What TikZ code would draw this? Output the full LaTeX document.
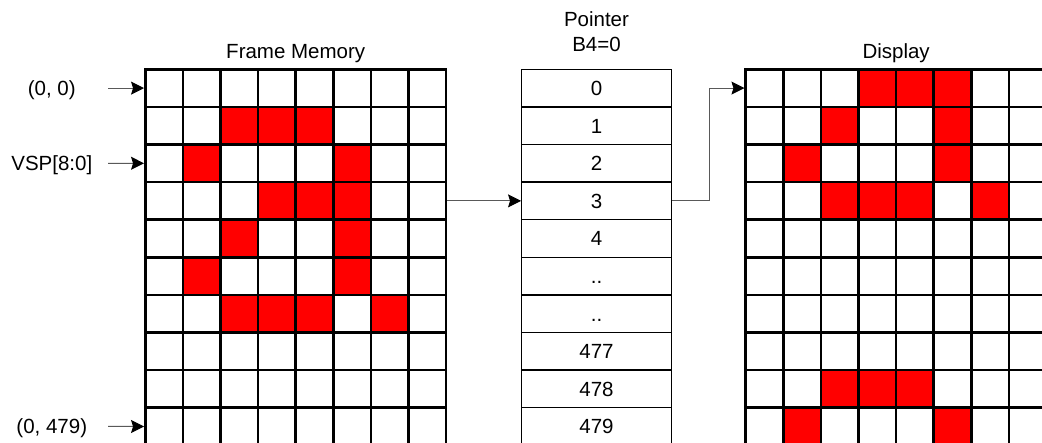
\documentclass[tikz,border=0pt]{standalone}
\usepackage{fontspec}
\setmainfont{Liberation Sans}
\usepackage{tikz}
\usetikzlibrary{arrows.meta,positioning}

\begin{document}
\begin{tikzpicture}[
  x=1pt,y=-1pt,
  font=\fontsize{20.5}{25}\selectfont,
  cell/.style={draw,line width=2.5pt,fill=white,minimum width=37.6pt,minimum height=37.6pt,inner sep=0pt},
  hot/.style={cell,fill=red},
  slot/.style={draw,line width=1.3pt,minimum width=149.6pt,minimum height=37.6pt,inner sep=0pt,text height=14.7pt,text depth=0pt},
  title/.style={inner sep=0pt,text height=14.7pt,text depth=0pt},
  rowlabel/.style={anchor=east,minimum width=112pt,inner sep=0pt,text height=14.7pt,text depth=0pt},
  arrow/.style={-{Stealth[length=13pt,width=13pt,inset=2pt,color=black]},draw=black!65,line width=1pt}
]
\useasboundingbox (0,0) rectangle (1042,443);
\clip (0,0) rectangle (1042,443);
% frame memory
\foreach \r in {0,...,9}
  \foreach \c in {0,...,7}
    \node[cell] (fm-\r-\c) at (164.1+37.6*\c,88.1+37.6*\r) {};
\foreach \r/\c in {1/2,1/3,1/4,2/1,2/5,3/3,3/4,3/5,4/2,4/5,5/1,5/5,6/2,6/3,6/4,6/6}
  \node[hot] (fm-\r-\c) at (fm-\r-\c) {};
\node[title] (fmtitle) at (295.7,51) {Frame Memory};
% pointer table
\foreach \lbl [count=\i from 0] in {0,1,2,3,4,{..},{..},477,478,479}
  \node[slot] (ptr-\i) at (596.5,88.1+37.6*\i) {\lbl};
\node[align=center,inner sep=0pt] (ptrtitle) at (596.5,31.9) {Pointer\\B4=0};
% display
\foreach \r in {0,...,9}
  \foreach \c in {0,...,7}
    \node[cell] (dp-\r-\c) at (764.5+37.6*\c,88.1+37.6*\r) {};
\foreach \r/\c in {0/3,0/4,0/5,1/2,1/5,2/1,2/5,3/2,3/3,3/4,3/6,8/2,8/3,8/4,9/1,9/5}
  \node[hot] (dp-\r-\c) at (dp-\r-\c) {};
\node[title] (dptitle) at (896.1,51) {Display};
% row labels
\node[rowlabel] (first) at (108,88.1) {(0, 0)};
\node[rowlabel] (vsp) at (108,163.3) {VSP[8:0]};
\node[rowlabel] (last) at (108,426.5) {(0, 479)};
\draw[arrow] (first)--(fm-0-0.west);
\draw[arrow] (vsp)--(fm-2-0.west);
\draw[arrow] (last)--(fm-9-0.west);
\draw[arrow] (fm-3-7.east)--(ptr-3.west);
\draw[arrow] (ptr-3.east)--++(37.5,0)|-(dp-0-0.west);
\end{tikzpicture}
\end{document}
